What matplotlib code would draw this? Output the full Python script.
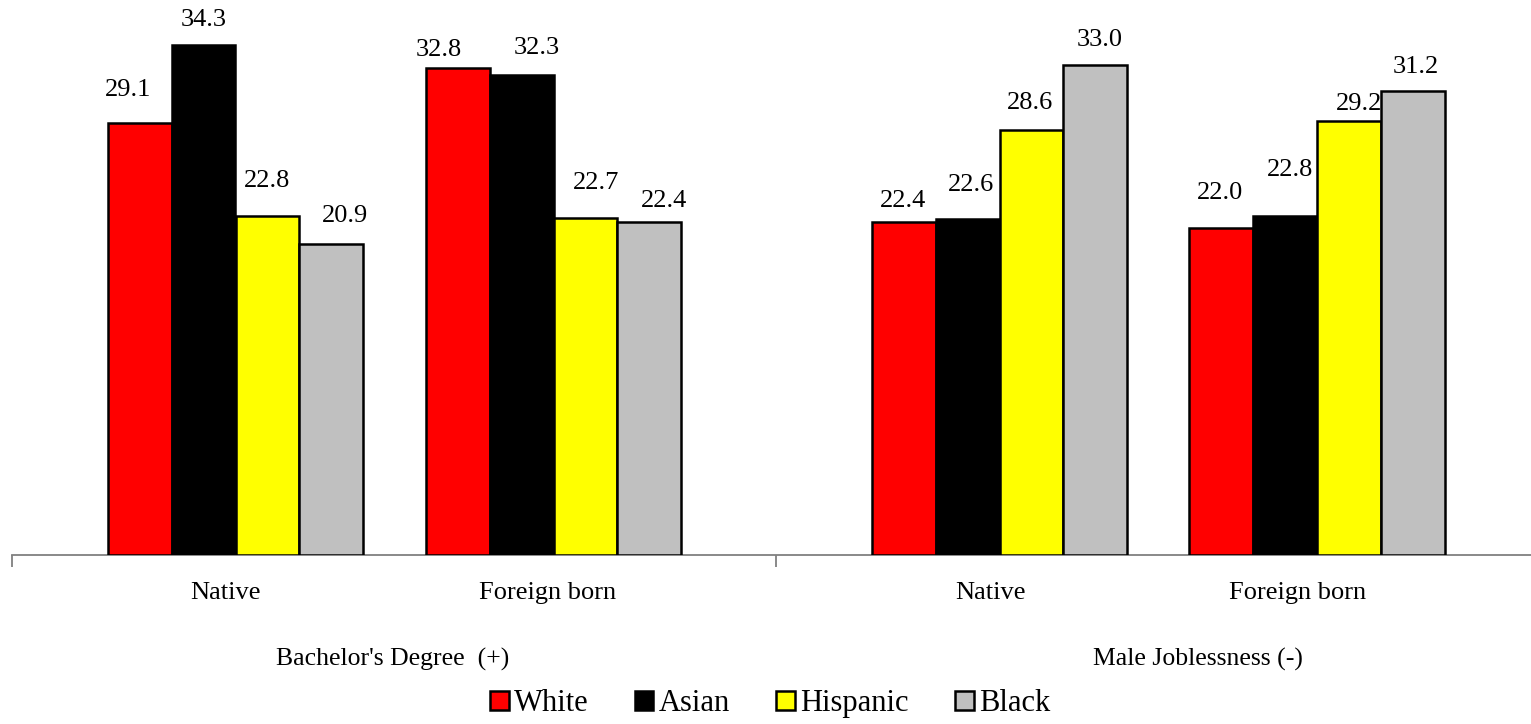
import matplotlib
matplotlib.use("Agg")
import matplotlib.pyplot as plt
from matplotlib.patches import Patch

plt.rcParams['font.family'] = ['Liberation Serif', 'DejaVu Serif']

# groups along the axis, left to right
sections = ["Bachelor's Degree  (+)", "Male Joblessness (-)"]
categories = ["Native", "Foreign born", "Native", "Foreign born"]
races = ["White", "Asian", "Hispanic", "Black"]
colors = ["#ff0000", "#000000", "#ffff00", "#c0c0c0"]

# one row per category, one value per race
values = [
    [29.1, 34.3, 22.8, 20.9],
    [32.8, 32.3, 22.7, 22.4],
    [22.4, 22.6, 28.6, 33.0],
    [22.0, 22.8, 29.2, 31.2],
]

# layout in pixels (figure drawn at 100 dpi)
W, H = 1531, 724
x0, base = 12, 555
centers = [223.5, 541.5, 987.5, 1305]
bar_w = 63.8
px_per_unit = 14.86

# hand placed value labels: (dx, dy) from the bar top, in pixels
nudge = [
    [(-12, 33), (0, 25), (0, 35), (14, 28)],
    [(-19, 18), (15, 27), (11, 35), (15, 21)],
    [(-1, 21), (3, 34), (-1, 27), (4, 25)],
    [(-1, 35), (5, 46), (10, 17), (3, 24)],
]

fig = plt.figure(figsize=(W / 100, H / 100), dpi=100)
ax = fig.add_axes([x0 / W, (H - base) / H, 1 - x0 / W, base / H])
ax.set_xlim(0, W - x0)
ax.set_ylim(0, base / px_per_unit)

for g, (c, row) in enumerate(zip(centers, values)):
    for i, v in enumerate(row):
        x = c + (i - 1.5) * bar_w
        ax.bar(x, v, width=bar_w, color=colors[i], edgecolor="black",
               linewidth=1.8, zorder=3)
        dx, dy = nudge[g][i]
        ax.annotate(f"{v:.1f}", xy=(x, v), xytext=(dx, dy),
                    textcoords="offset pixels", ha="center", va="center",
                    fontsize=19)

# category labels under the axis
cat_x = [213, 536, 978, 1286]
for x, name in zip(cat_x, categories):
    ax.annotate(name, xy=(x, 0), xytext=(0, -38), textcoords="offset pixels",
                ha="center", va="center", fontsize=19, annotation_clip=False)

sec_x = [381, 1186]
for x, name in zip(sec_x, sections):
    ax.annotate(name, xy=(x, 0), xytext=(0, -104), textcoords="offset pixels",
                ha="center", va="center", fontsize=18.5, annotation_clip=False)

for s in ["top", "right", "left"]:
    ax.spines[s].set_visible(False)
ax.spines["bottom"].set_color("#808080")
ax.spines["bottom"].set_linewidth(1.3)
ax.set_yticks([])
ax.set_xticks([0, 764])
ax.set_xticklabels([])
ax.tick_params(axis="x", direction="out", length=8.5, width=1.3, color="#808080")

handles = [Patch(facecolor=c, edgecolor="black", linewidth=1.8) for c in colors]
fig.legend(handles, races, loc="center", bbox_to_anchor=(0.503, 0.028),
           ncol=4, frameon=False, fontsize=22, handlelength=0.62,
           handleheight=0.62, handletextpad=0.18, columnspacing=1.5,
           borderpad=0)

fig.savefig("out.png", dpi=100)
